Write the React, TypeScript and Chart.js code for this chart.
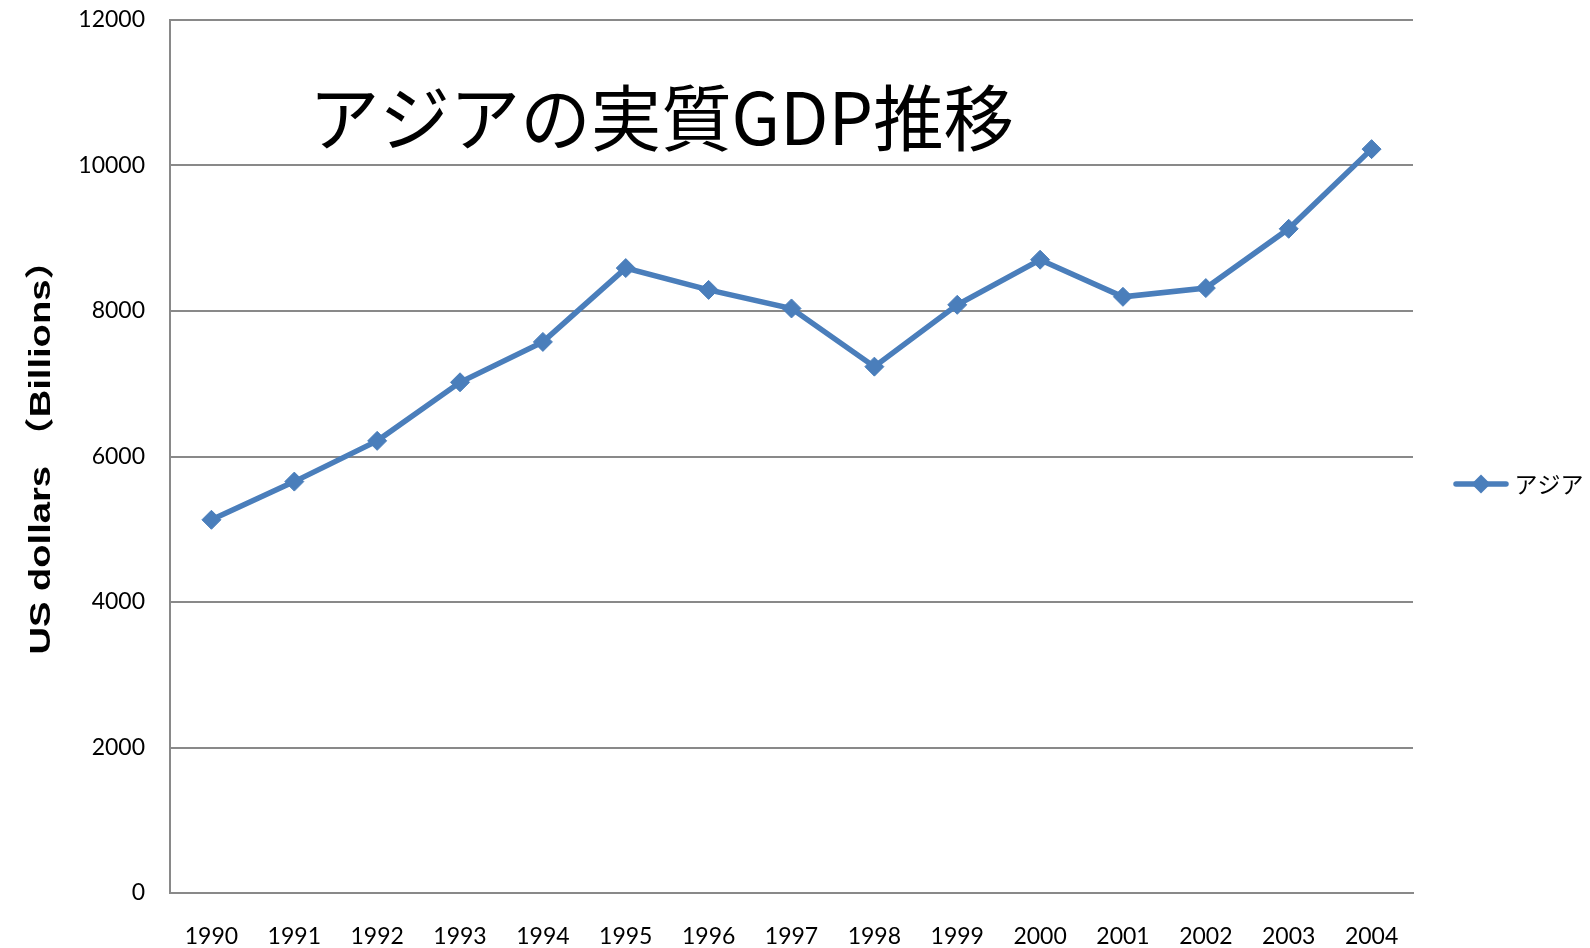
import React, { useEffect, useRef } from 'react';
import { Chart, registerables } from 'chart.js';

Chart.register(...registerables);

const years = ['1990', '1991', '1992', '1993', '1994', '1995', '1996', '1997', '1998', '1999', '2000', '2001', '2002', '2003', '2004'];
const asiaGdp = [5130, 5655, 6215, 7020, 7575, 8590, 8290, 8035, 7235, 8085, 8705, 8195, 8315, 9130, 10225];
const yMin = 0;
const yMax = 12000;
const yStep = 2000;
const seriesName = 'アジア';
const chartTitle = 'アジアの実質GDP推移';
const yAxisTitle = 'US dollars （Billions）';

const LINE_COLOR = '#4A7EBB';
const GRID_COLOR = '#898989';
const TICK_FONT = 'Lato, "Noto Sans CJK JP", sans-serif';

function makeLegendImage(): HTMLCanvasElement {
  const c = document.createElement('canvas');
  c.width = 56;
  c.height = 22;
  const ctx = c.getContext('2d')!;
  ctx.strokeStyle = LINE_COLOR;
  ctx.lineWidth = 5.5;
  ctx.lineCap = 'round';
  ctx.beginPath();
  ctx.moveTo(3, 11);
  ctx.lineTo(53, 11);
  ctx.stroke();
  ctx.fillStyle = LINE_COLOR;
  ctx.beginPath();
  ctx.moveTo(28, 1.5);
  ctx.lineTo(37.5, 11);
  ctx.lineTo(28, 20.5);
  ctx.lineTo(18.5, 11);
  ctx.closePath();
  ctx.fill();
  return c;
}

const textPlugin = {
  id: 'customTexts',
  afterDraw(chart: any) {
    const ctx = chart.ctx as CanvasRenderingContext2D;
    // Chart title inside plot area
    ctx.save();
    ctx.font = '72px "Noto Sans CJK JP", sans-serif';
    ctx.fillStyle = '#000';
    ctx.textAlign = 'center';
    ctx.textBaseline = 'alphabetic';
    const tw = ctx.measureText(chartTitle).width;
    const sx = 705 / tw;
    ctx.translate(661.5, 145);
    ctx.scale(sx, 1);
    ctx.fillText(chartTitle, 0, 0);
    ctx.restore();

    // Y axis title (rotated)
    ctx.save();
    ctx.font = 'bold 29px "Liberation Sans", Arial, "Noto Sans CJK JP", sans-serif';
    ctx.fillStyle = '#000';
    ctx.textAlign = 'center';
    ctx.textBaseline = 'alphabetic';
    const yw = ctx.measureText(yAxisTitle).width;
    const ysx = 413 / yw;
    ctx.translate(50, 448);
    ctx.rotate(-Math.PI / 2);
    ctx.scale(ysx, 1);
    ctx.fillText(yAxisTitle, 0, 0);
    ctx.restore();
  },
};

export default function App() {
  const ref = useRef<HTMLCanvasElement>(null);

  useEffect(() => {
    if (!ref.current) return;
    const legendImg = makeLegendImage();
    const chart = new Chart(ref.current, {
      type: 'line',
      data: {
        labels: years,
        datasets: [
          {
            label: seriesName,
            data: asiaGdp,
            borderColor: LINE_COLOR,
            backgroundColor: LINE_COLOR,
            borderWidth: 5.5,
            tension: 0,
            pointStyle: 'rectRot',
            pointRadius: 9.5,
            pointBackgroundColor: LINE_COLOR,
            pointBorderColor: LINE_COLOR,
            pointBorderWidth: 1,
            fill: false,
          },
        ],
      },
      options: {
        animation: false,
        responsive: false,
        devicePixelRatio: 1,
        layout: { padding: { top: 20, left: 0, right: 0, bottom: 0 } },
        plugins: {
          title: { display: false },
          tooltip: { enabled: false },
          legend: {
            display: true,
            position: 'right',
            maxWidth: 177,
            labels: {
              usePointStyle: true,
              pointStyle: legendImg as any,
              pointStyleWidth: 44,
              padding: 46,
              color: '#000',
              font: { family: '"Noto Sans CJK JP", sans-serif', size: 23 },
            },
          },
        },
        scales: {
          x: {
            type: 'category',
            offset: true,
            grid: { display: false, drawTicks: false, offset: true },
            border: { display: true, color: GRID_COLOR, width: 2 },
            ticks: {
              color: '#000',
              padding: 30,
              autoSkip: false,
              maxRotation: 0,
              font: { family: TICK_FONT, size: 23 },
            },
            afterFit: (scale: any) => {
              scale.height = 55;
              scale.paddingLeft = 0;
              scale.paddingRight = 0;
            },
          },
          y: {
            min: yMin,
            max: yMax,
            grid: { display: true, color: GRID_COLOR, lineWidth: 2, drawTicks: false },
            border: { display: true, color: GRID_COLOR, width: 2 },
            ticks: {
              stepSize: yStep,
              color: '#000',
              padding: 25,
              font: { family: TICK_FONT, size: 23 },
              callback: (value: any) => String(value),
            },
            title: { display: false },
            afterFit: (scale: any) => {
              scale.width = 170;
              scale.paddingTop = 0;
              scale.paddingBottom = 0;
            },
          },
        },
      },
      plugins: [textPlugin],
    });
    return () => chart.destroy();
  }, []);

  return (
    <div style={{ position: 'fixed', left: 0, top: 0, width: 1590, height: 948, background: '#fff' }}>
      <canvas ref={ref} width={1590} height={948} style={{ display: 'block', width: 1590, height: 948 }} />
    </div>
  );
}
